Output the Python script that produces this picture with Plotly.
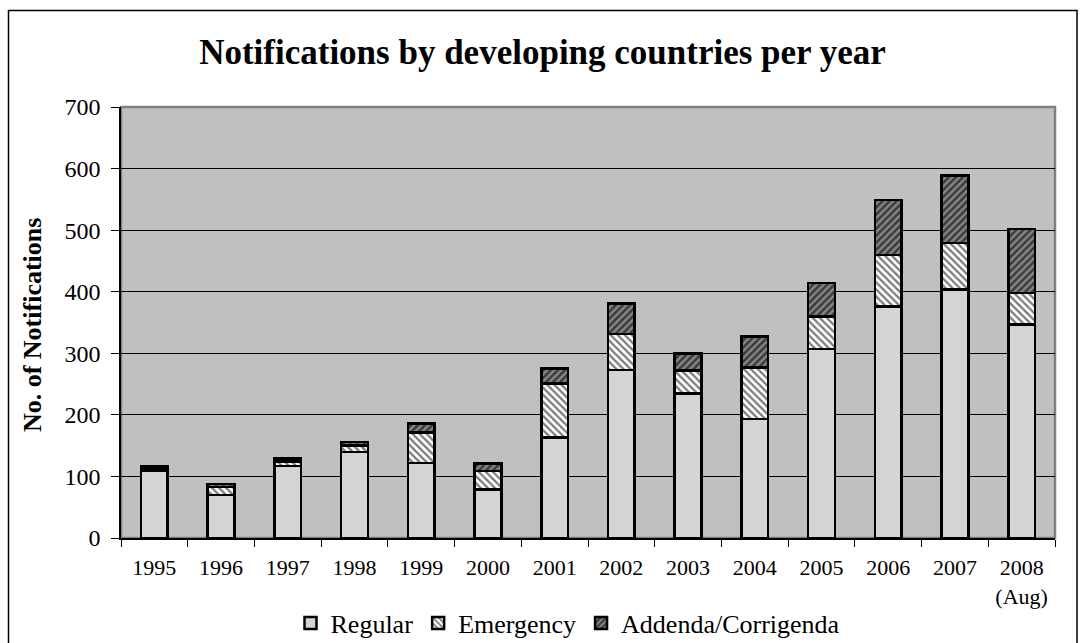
import plotly.graph_objects as go

years = ["1995", "1996", "1997", "1998", "1999", "2000", "2001", "2002",
         "2003", "2004", "2005", "2006", "2007", "2008<br>(Aug)"]
regular = [110, 70, 117, 140, 122, 79, 163, 273, 235, 193, 307, 376, 404, 347]
emergency = [3, 13, 7, 10, 49, 30, 88, 58, 37, 84, 53, 84, 75, 51]
addenda = [4, 5, 5, 6, 15, 12, 24, 50, 28, 50, 54, 89, 110, 104]

y_ticks = [0, 100, 200, 300, 400, 500, 600, 700]

FONT = "Liberation Serif"
L, R, T, B = 121, 1055, 107, 538
W, H = 1085, 643


def px_x(px):
    return (px - L) / (R - L)


def px_y(py):
    return (B - py) / (B - T)


line = dict(color="black", width=2.5)

fig = go.Figure()
fig.add_trace(go.Bar(
    name="Regular", x=years, y=regular,
    marker=dict(color="#D4D4D4", line=line),
))
fig.add_trace(go.Bar(
    name="Emergency", x=years, y=emergency,
    marker=dict(color="#FFFFFF", line=line,
                pattern=dict(shape="\\", fgcolor="#7A7A7A", bgcolor="#FFFFFF",
                             size=5, solidity=0.45, fillmode="replace")),
))
fig.add_trace(go.Bar(
    name="Addenda/Corrigenda", x=years, y=addenda,
    marker=dict(color="#808080", line=line,
                pattern=dict(shape="/", fgcolor="#3A3A3A", bgcolor="#858585",
                             size=5, solidity=0.5, fillmode="replace")),
))

fig.update_layout(
    width=W, height=H,
    barmode="stack",
    bargap=0.6,
    paper_bgcolor="white",
    plot_bgcolor="#C0C0C0",
    margin=dict(l=L, r=W - R, t=T, b=H - B, pad=0, autoexpand=False),
    font=dict(family=FONT, color="black"),
    title=dict(text="<b>Notifications by developing countries per year</b>",
               x=0.5, xref="container", xanchor="center",
               y=1 - 52 / H, yanchor="middle",
               font=dict(family=FONT, size=35, color="black")),
    showlegend=True,
    legend=dict(orientation="h", x=px_x(568), xanchor="center",
                y=px_y(623), yanchor="middle",
                font=dict(family=FONT, size=26, color="black"),
                bgcolor="rgba(0,0,0,0)",
                traceorder="normal", itemwidth=30, tracegroupgap=0),
    xaxis=dict(type="category", range=[-0.5, 13.5], automargin=False,
               tickson="boundaries", ticks="outside", ticklen=7,
               tickcolor="black", tickwidth=1, ticklabelstandoff=9,
               showline=True, linecolor="black", linewidth=1.5,
               showgrid=False,
               tickfont=dict(family=FONT, size=22, color="black")),
    yaxis=dict(range=[0, 700], tickvals=y_ticks, ticks="outside", ticklen=8,
               tickcolor="black", tickwidth=1, automargin=False,
               ticklabelstandoff=6,
               showline=True, linecolor="black", linewidth=1.5,
               showgrid=True, gridcolor="black", gridwidth=1,
               zeroline=False,
               tickfont=dict(family=FONT, size=24, color="black")),
    annotations=[dict(text="<b>No. of Notifications</b>", textangle=-90,
                      xref="paper", yref="paper", x=px_x(32), y=0.494,
                      xanchor="center", yanchor="middle", showarrow=False,
                      font=dict(family=FONT, size=26, color="black"))],
    shapes=[
        dict(type="rect", xref="paper", yref="paper", x0=0, x1=1, y0=0, y1=1,
             line=dict(color="#808080", width=2.5), layer="below"),
        dict(type="rect", xref="paper", yref="paper",
             x0=px_x(8.5), x1=px_x(1077), y0=px_y(660), y1=px_y(10.5),
             line=dict(color="black", width=1.5), layer="above"),
    ],
)

fig.write_html("out.html")
